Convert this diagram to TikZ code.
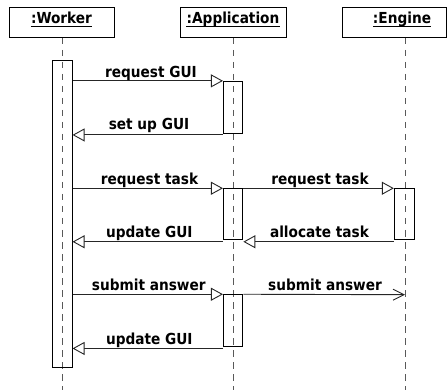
\documentclass[tikz,border=0pt]{standalone}
\usepackage{fontspec}
\setmainfont{DejaVu Sans Condensed}
\usetikzlibrary{arrows.meta}
\tikzset{
  headbox/.style={draw=black, line width=0.9pt, minimum height=30pt, inner sep=0pt},
  headtext/.style={font=\bfseries\fontsize{15.2}{17}\selectfont, inner sep=0pt, anchor=base},
  lifeline/.style={draw=black!65, line width=0.9pt, dash pattern=on 6.5pt off 5.5pt},
  actbox/.style={draw=black, line width=0.9pt, inner sep=0pt, minimum width=19.5pt},
  msg/.style={draw=black!85, line width=0.9pt, -{Triangle[open, length=12pt, width=13pt, fill=white]}},
  asyncmsg/.style={draw=black!85, line width=0.9pt, -{Straight Barb[length=11pt, width=11pt]}},
  lbl/.style={font=\bfseries\fontsize{15.2}{17}\selectfont, inner sep=0pt, anchor=base},
}
\begin{document}
\begin{tikzpicture}[x=1pt,y=-1pt]
\useasboundingbox (0,0) rectangle (447,390);
% headers
\node[headbox, minimum width=105pt] (hw) at (61.5,22) {};
\node[headbox, minimum width=106pt] (ha) at (233,22) {};
\node[headbox, minimum width=104pt] (he) at (394.3,22) {};
\node[headtext] (tw) at (61.5,24) {:Worker};
\node[headtext] (ta) at (233,24) {:Application};
\node[headtext] (te) at (402,24) {:Engine};
\foreach \t in {tw,ta,te}
  \draw[line width=0.9pt] ([yshift=-2pt]\t.base west) -- ([yshift=-2pt]\t.base east);
% lifelines
\coordinate (lw0) at (62.7,38); \coordinate (lw1) at (62.7,390);
\coordinate (la0) at (233.7,38); \coordinate (la1) at (233.7,390);
\coordinate (le0) at (405,38); \coordinate (le1) at (405,390);
\draw[lifeline] (lw0) -- (lw1);
\draw[lifeline] (la0) -- (la1);
\draw[lifeline] (le0) -- (le1);
% activations
\node[actbox, minimum height=307pt] (wact) at (62.35,214.2) {};
\node[actbox, minimum height=51.7pt] (a1) at (233.15,107.15) {};
\node[actbox, minimum height=50.6pt] (a2) at (233.15,214) {};
\node[actbox, minimum height=51.3pt] (a3) at (233.15,320.35) {};
\node[actbox, minimum height=50.6pt, minimum width=20pt] (e1) at (404.3,214) {};
% messages
\draw[msg] (wact.east |- a1.north) -- (a1.north west);
\draw[msg] ([yshift=-1.5pt]a1.south west) -- ([yshift=-1.5pt]wact.east |- a1.south);
\draw[msg] (wact.east |- a2.north) -- (a2.north west);
\draw[msg] (a2.north east) -- (e1.north west);
\draw[msg] ([yshift=-2pt]a2.south west) -- ([yshift=-2pt]wact.east |- a2.south);
\draw[msg] ([yshift=-2pt]e1.south west) -- ([yshift=-2pt]a2.south east);
\draw[msg] (wact.east |- a3.north) -- (a3.north west);
\coordinate (esub) at (405,294.7);
\draw[asyncmsg] (a3.north east) -- (esub);
\draw[msg] ([yshift=-2pt]a3.south west) -- ([yshift=-2pt]wact.east |- a3.south);
% labels
\node[lbl] (l1) at (151,77.7) {request GUI};
\node[lbl] (l2) at (149,130) {set up GUI};
\node[lbl] (l3) at (149.5,184.3) {request task};
\node[lbl] (l4) at (320,184.3) {request task};
\node[lbl] (l5) at (149.3,237.3) {update GUI};
\node[lbl] (l6) at (319.5,237.3) {allocate task};
\node[lbl] (l7) at (148.8,290.5) {submit answer};
\node[lbl] (l8) at (325,290.5) {submit answer};
\node[lbl] (l9) at (149.3,344) {update GUI};
\end{tikzpicture}
\end{document}
